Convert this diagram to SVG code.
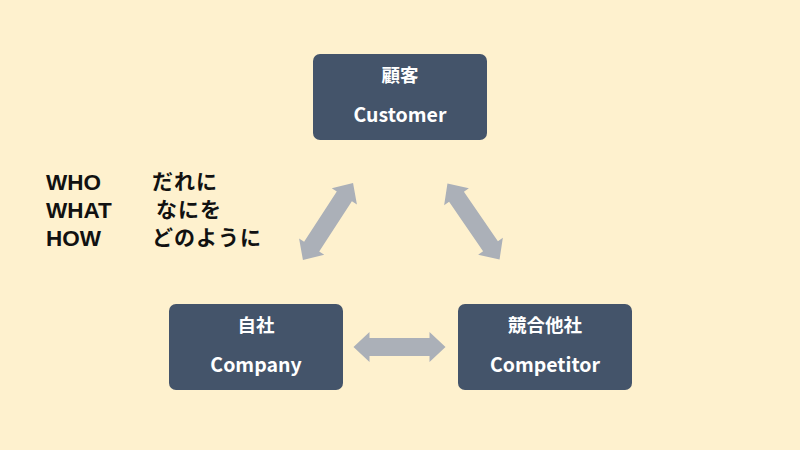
<svg xmlns="http://www.w3.org/2000/svg" width="800" height="450" viewBox="0 0 800 450">
<style>
.box{fill:#44546A;}
.t{font-family:"Noto Sans CJK JP","Noto Sans",sans-serif;font-weight:bold;fill:#FFFFFF;text-anchor:middle;}
.jp{font-size:18.5px;}
.en{font-size:19.5px;}
.side{font-weight:bold;fill:#111111;}
.lat{font-family:"Liberation Sans",Arial,sans-serif;font-size:22.5px;}
.kana{font-family:"Noto Sans CJK JP",sans-serif;font-size:21px;letter-spacing:1px;}
.arr{fill:#ABB0B8;}
</style>
<defs>
<polygon id="dbl" points="-46,0 -30,-15 -30,-9 30,-9 30,-15 46,0 30,15 30,9 -30,9 -30,15"/>
</defs>
<rect width="800" height="450" fill="#FEF1CE"/>
<g id="connectors" class="arr">
<use href="#dbl" transform="translate(328,221.5) rotate(-57)"/>
<use href="#dbl" transform="translate(473.5,221.5) rotate(55.5)"/>
<use href="#dbl" transform="translate(399.5,347)"/>
</g>
<g id="customer">
<rect class="box" x="313" y="54" width="174" height="86" rx="7"/>
<text class="t jp" x="400" y="82">顧客</text>
<text class="t en" x="400" y="122">Customer</text>
</g>
<g id="company">
<rect class="box" x="169" y="304" width="174" height="86" rx="7"/>
<text class="t jp" x="256" y="332">自社</text>
<text class="t en" x="256" y="372">Company</text>
</g>
<g id="competitor">
<rect class="box" x="458" y="304" width="174" height="86" rx="7"/>
<text class="t jp" x="545" y="332">競合他社</text>
<text class="t en" x="545" y="372">Competitor</text>
</g>
<g id="legend" class="side">
<text class="lat" x="46" y="190">WHO</text>
<text class="lat" x="46" y="218">WHAT</text>
<text class="lat" x="46" y="246">HOW</text>
<text class="kana" x="152" y="189">だれに</text>
<text class="kana" x="156" y="217">なにを</text>
<text class="kana" x="152" y="245">どのように</text>
</g>
</svg>
